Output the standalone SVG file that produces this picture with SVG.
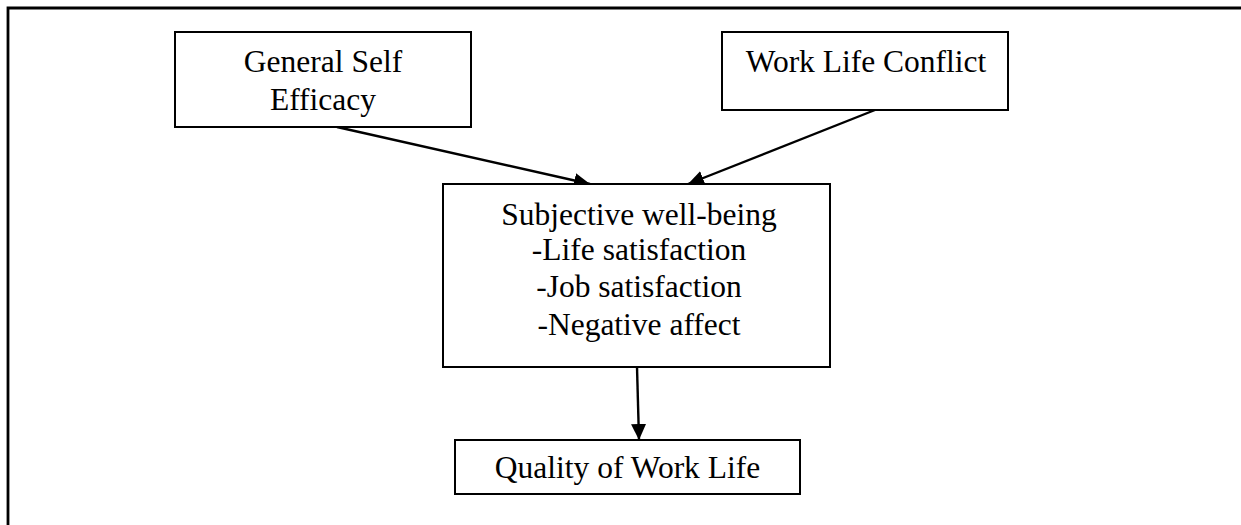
<svg xmlns="http://www.w3.org/2000/svg" width="1241" height="525" viewBox="0 0 1241 525">
<style>
.box{fill:#fff;stroke:#000;stroke-width:2}
.lbl{font-family:"Liberation Serif","Times New Roman",serif;font-size:31.5px;fill:#000;text-anchor:middle}
.conn{stroke:#000;stroke-width:2.4;fill:none;marker-end:url(#ah)}
</style>
<defs>
<marker id="ah" markerUnits="userSpaceOnUse" markerWidth="17" markerHeight="15" refX="16" refY="7.5" orient="auto" viewBox="0 0 17 15">
<path d="M0,0 L16,7.5 L0,15 Z" fill="#000"/>
</marker>
</defs>
<rect width="1241" height="525" fill="#fff"/>
<path d="M8,525 V8 H1241" fill="none" stroke="#000" stroke-width="2.8"/>
<g id="connectors">
<line class="conn" x1="337" y1="127" x2="590" y2="184"/>
<line class="conn" x1="875" y1="110" x2="688" y2="184"/>
<line class="conn" x1="637" y1="367" x2="639" y2="440"/>
</g>
<g id="gse">
<rect class="box" x="175" y="32" width="296" height="95"/>
<text class="lbl" x="323" y="72">General Self</text>
<text class="lbl" x="323" y="110">Efficacy</text>
</g>
<g id="wlc">
<rect class="box" x="722" y="32" width="286" height="78"/>
<text class="lbl" x="866" y="72">Work Life Conflict</text>
</g>
<g id="swb">
<rect class="box" x="443" y="184" width="387" height="183"/>
<text class="lbl" x="639" y="225">Subjective well-being</text>
<text class="lbl" x="639" y="260">-Life satisfaction</text>
<text class="lbl" x="639" y="297">-Job satisfaction</text>
<text class="lbl" x="639" y="335">-Negative affect</text>
</g>
<g id="qwl">
<rect class="box" x="455" y="440" width="345" height="54"/>
<text class="lbl" x="627.5" y="478">Quality of Work Life</text>
</g>
</svg>
